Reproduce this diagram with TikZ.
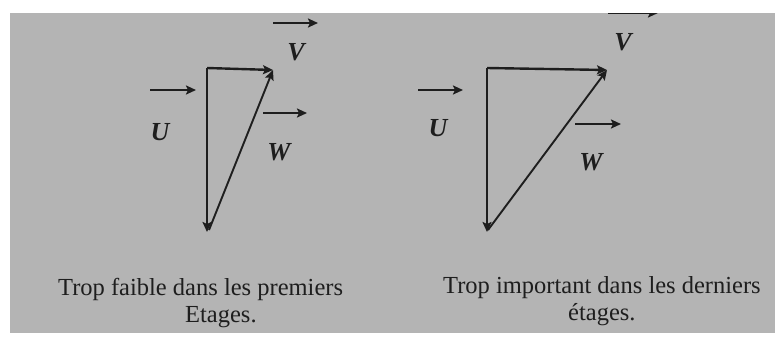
\documentclass[tikz,border=0pt]{standalone}
\usepackage{fontspec}
\setmainfont{Liberation Serif}
\usetikzlibrary{arrows.meta}
\definecolor{bg}{RGB}{180,180,180}
\definecolor{ink}{RGB}{30,30,30}
\begin{document}
\begin{tikzpicture}[x=1pt,y=-1pt,
  vec/.style={draw=ink, line width=2.4pt, -{Stealth[length=10pt,width=9pt,inset=2pt]}},
  side/.style={draw=ink, line width=1.9pt, -{Stealth[length=10pt,width=9pt,inset=2pt]}},
  lbl/.style={font=\fontsize{26}{30}\selectfont\bfseries\itshape, inner sep=0pt, text=ink},
  captxt/.style={font=\fontsize{24.5}{28}\selectfont, inner sep=0pt, anchor=base west, text=ink}]
\useasboundingbox (0,0) rectangle (775,340);
\fill[white] (0,0) rectangle (775,340);
\fill[bg] (10,13) rectangle (775,333);
% ---------- left triangle ----------
\coordinate (A1) at (207,68);
\coordinate (B1) at (273,70);
\coordinate (C1) at (207,232);
\coordinate (D1) at (209,230);
\draw[vec] (A1) -- (B1);
\draw[vec] (A1) -- (C1);
\draw[side] (D1) -- (B1);
% labels
\coordinate (u1s) at (150,90); \coordinate (u1e) at (196,90);
\draw[vec] (u1s) -- (u1e);
\node[lbl] (U1) at (160,132) {U};
\coordinate (v1s) at (273,23); \coordinate (v1e) at (318,23);
\draw[vec] (v1s) -- (v1e);
\node[lbl] (V1) at (296,52) {V};
\coordinate (w1s) at (263,113); \coordinate (w1e) at (307,113);
\draw[vec] (w1s) -- (w1e);
\node[lbl] (W1) at (279,152) {W};
\node[captxt] (cap1a) at (58,295) {Trop faible dans les premiers};
\node[captxt] (cap1b) at (185,322) {Etages.};
% ---------- right triangle ----------
\coordinate (A2) at (487,68);
\coordinate (B2) at (607,70);
\coordinate (C2) at (487,232);
\coordinate (D2) at (488,230);
\draw[vec] (A2) -- (B2);
\draw[vec] (A2) -- (C2);
\draw[side] (D2) -- (B2);
\coordinate (u2s) at (418,90); \coordinate (u2e) at (463,90);
\draw[vec] (u2s) -- (u2e);
\node[lbl] (U2) at (438,128) {U};
\coordinate (w2s) at (575,124); \coordinate (w2e) at (621,124);
\draw[vec] (w2s) -- (w2e);
\node[lbl] (W2) at (591,162) {W};
\node[lbl] (V2) at (623,42) {V};
\coordinate (v2s) at (608,13); \coordinate (v2e) at (658,13);
\draw[vec] (v2s) -- (v2e);
\fill[white] (0,0) rectangle (775,12.5);
\node[captxt] (cap2a) at (443,293) {Trop important dans les derniers};
\node[captxt] (cap2b) at (568,320) {étages.};
\end{tikzpicture}
\end{document}
